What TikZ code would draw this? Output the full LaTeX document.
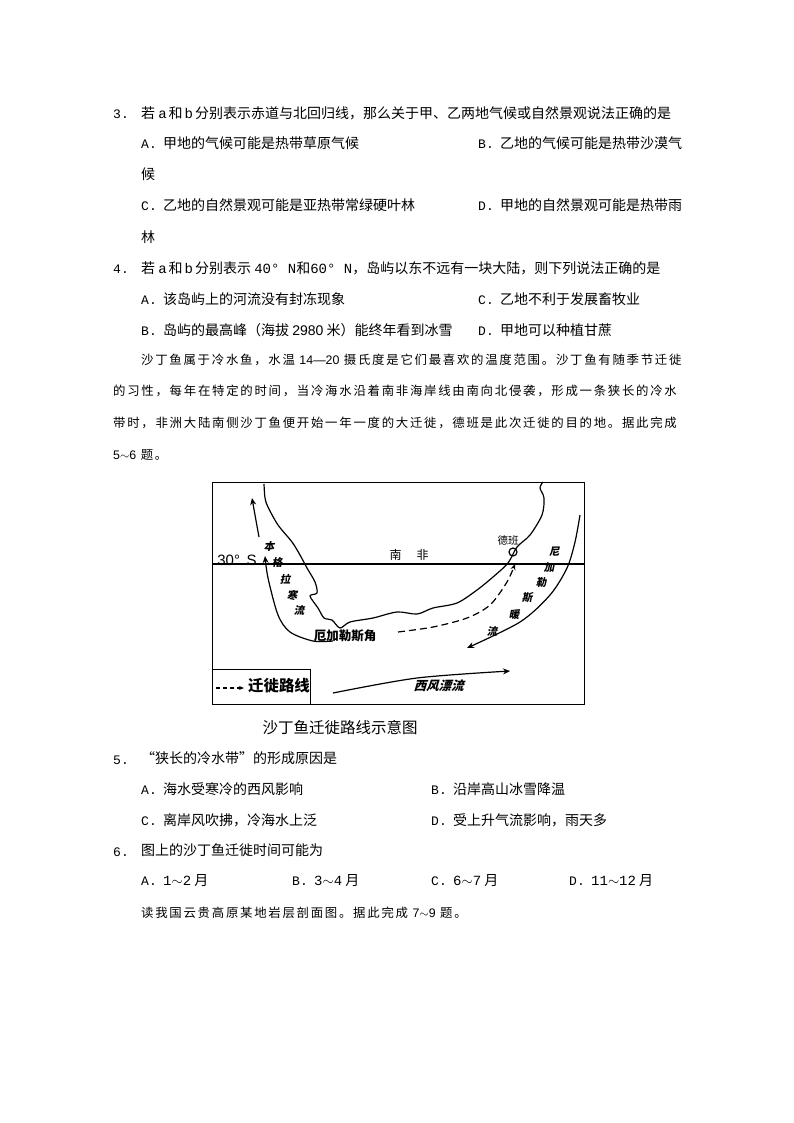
\documentclass[tikz,border=0pt]{standalone}
\usepackage{fontspec}
\setmainfont{Noto Sans CJK SC}
\newfontfamily\cjkfont{Noto Sans CJK SC}
\newfontfamily\parafont[LetterSpace=14]{Noto Sans CJK SC}
\newfontfamily\latfont{Liberation Mono}
\newfontfamily\labfont{Liberation Sans}
\newcommand{\optlab}[1]{\makebox[22pt][l]{\latfont\fontsize{13}{13}\selectfont #1.}}
\newcommand{\dou}{\char"FF0C\relax}
\newcommand{\zuo}{\char"FF08\relax}
\newcommand{\you}{\char"FF09\relax}
\tikzset{
  line/.style={anchor=west, inner sep=0pt, font=\cjkfont\fontsize{14}{15}\selectfont},
  para/.style={anchor=west, inner sep=0pt, font=\parafont\fontsize{12.4}{15}\selectfont},
  num/.style={anchor=west, inner sep=0pt, font=\latfont\fontsize{13}{15}\selectfont},
  maplab/.style={inner sep=0pt, font=\cjkfont\bfseries\fontsize{10.5}{11}\selectfont},
  current/.style={line width=1.2pt, -{Stealth[length=7pt,width=6pt]}},
}
\usetikzlibrary{arrows.meta}
\begin{document}
\begin{tikzpicture}[x=1pt,y=-1pt]
\useasboundingbox (0,0) rectangle (794,1123);
% question 3
\node[num] (n3) at (113,114) {3.};
\node[line] (q3) at (141,113) {若 {\latfont a}\hspace{2pt}和\hspace{2pt}{\latfont b}\hspace{2pt}分别表示赤道与北回归线\dou 那么关于甲、乙两地气候或自然景观说法正确的是};
\node[line] (q3a) at (141,143) {\optlab{A}甲地的气候可能是热带草原气候};
\node[line] (q3b) at (478,143) {\optlab{B}乙地的气候可能是热带沙漠气};
\node[line] (q3b2) at (141,174) {候};
\node[line] (q3c) at (141,205) {\optlab{C}乙地的自然景观可能是亚热带常绿硬叶林};
\node[line] (q3d) at (478,205) {\optlab{D}甲地的自然景观可能是热带雨};
\node[line] (q3d2) at (141,237) {林};
% question 4
\node[num] (n4) at (113,269) {4.};
\node[line] (q4) at (141,268) {若 {\latfont a}\hspace{2pt}和\hspace{2pt}{\latfont b}\hspace{2pt}分别表示 {\latfont 40° N}和{\latfont 60° N}\dou 岛屿以东不远有一块大陆\dou 则下列说法正确的是};
\node[line] (q4a) at (141,299) {\optlab{A}该岛屿上的河流没有封冻现象};
\node[line] (q4c) at (478,299) {\optlab{C}乙地不利于发展畜牧业};
\node[line] (q4b) at (141,330) {\optlab{B}岛屿的最高峰\zuo 海拔 {\labfont 2980} 米\you 能终年看到冰雪};
\node[line] (q4d) at (478,330) {\optlab{D}甲地可以种植甘蔗};
% paragraph
\node[para] (p1) at (141,360) {沙丁鱼属于冷水鱼\dou 水温 {\labfont 14—20} 摄氏度是它们最喜欢的温度范围。沙丁鱼有随季节迁徙};
\node[para] (p2) at (113,391) {的习性\dou 每年在特定的时间\dou 当冷海水沿着南非海岸线由南向北侵袭\dou 形成一条狭长的冷水};
\node[para] (p3) at (113,423) {带时\dou 非洲大陆南侧沙丁鱼便开始一年一度的大迁徙\dou 德班是此次迁徙的目的地。据此完成};
\node[para] (p4) at (113,455) {{\labfont 5$\sim$6} 题。};
% map
\draw[line width=1pt] (212.5,482) rectangle (584,704);
\draw[line width=1pt] (213,669) -- (310,669) -- (310,704);
\draw[line width=1.3pt] (212.5,564) -- (584,564);
\draw[line width=1.2pt] plot[smooth, tension=.5] coordinates {(264,484) (265,498) (268,507) (278,525) (292,542) (300,555) (307,568) (315,582) (317,593) (310,596) (318,608) (324,618) (332,620) (340,628) (350,622) (373,618) (397,612) (417,614) (433,608) (457,603) (477,590) (493,577) (508,563) (517,547) (530,535) (542,515) (544,498) (540,488) (543,482)};
\node[draw, circle, line width=1.2pt, minimum size=8pt, inner sep=0pt] (durban) at (513,552) {};
\draw[current] plot[smooth] coordinates {(333,641) (313,641) (290,632) (278,615) (268,578) (265,556)};
\draw[current] plot[smooth] coordinates {(259,537) (255,515) (252,498)};
\draw[current] plot[smooth] coordinates {(580,515) (575,542) (567,568) (550,595) (520,622) (467,648)};
\draw[current] plot[smooth] coordinates {(333,693) (417,678) (510,671)};
\draw[line width=1.2pt, dash pattern=on 7pt off 4pt, -{Stealth[length=6pt,width=5pt]}] plot[smooth] coordinates {(398,632) (433,627) (467,618) (490,605) (507,582) (515,564)};
\draw[line width=1.2pt, dash pattern=on 4pt off 3pt, -{Stealth[length=5pt,width=4pt]}] (216,688) -- (244,688);
\node[inner sep=0pt, font=\labfont\fontsize{15}{15}\selectfont] (lat) at (237,560) {30° \,S};
\node[inner sep=0pt, font=\cjkfont\fontsize{12}{12}\selectfont] (nanfei) at (409,555) {南\hspace{15pt}非};
\node[inner sep=0pt, font=\cjkfont\fontsize{10.5}{11}\selectfont] (db) at (508,540) {德班};
\node[maplab, xslant=.2] (b1) at (270,547) {本};
\node[maplab, xslant=.2] (b2) at (278,562) {格};
\node[maplab, xslant=.2] (b3) at (286,579) {拉};
\node[maplab, xslant=.2] (b4) at (293,595) {寒};
\node[maplab, xslant=.2] (b5) at (300,610) {流};
\node[maplab, xslant=.2] (a1) at (555,552) {尼};
\node[maplab, xslant=.2] (a2) at (550,568) {加};
\node[maplab, xslant=.2] (a3) at (542,583) {勒};
\node[maplab, xslant=.2] (a4) at (528,598) {斯};
\node[maplab, xslant=.2] (a5) at (515,615) {暖};
\node[maplab, xslant=.2] (a6) at (493,631) {流};
\node[inner sep=0pt, font=\cjkfont\bfseries\fontsize{12.5}{13}\selectfont] (cape) at (345,636) {厄加勒斯角};
\node[inner sep=0pt, font=\cjkfont\bfseries\fontsize{12.5}{13}\selectfont, xslant=.3] (west) at (440,686) {西风漂流};
\node[inner sep=0pt, font=\cjkfont\bfseries\fontsize{15.4}{16}\selectfont] (legend) at (279,686) {迁徙路线};
\node[inner sep=0pt, font=\cjkfont\fontsize{15.5}{16}\selectfont] (cap) at (340,728) {沙丁鱼迁徙路线示意图};
% question 5
\node[num] (n5) at (113,760) {5.};
\node[line] (q5) at (141,758) {“狭长的冷水带”的形成原因是};
\node[line] (q5a) at (141,789) {\optlab{A}海水受寒冷的西风影响};
\node[line] (q5b) at (431,789) {\optlab{B}沿岸高山冰雪降温};
\node[line] (q5c) at (141,820) {\optlab{C}离岸风吹拂\dou 冷海水上泛};
\node[line] (q5d) at (431,820) {\optlab{D}受上升气流影响\dou 雨天多};
% question 6
\node[num] (n6) at (113,852) {6.};
\node[line] (q6) at (141,850) {图上的沙丁鱼迁徙时间可能为};
\node[line] (q6a) at (141,881) {\optlab{A}{\latfont 1$\sim$2} 月};
\node[line] (q6b) at (292,881) {\optlab{B}{\latfont 3$\sim$4} 月};
\node[line] (q6c) at (431,881) {\optlab{C}{\latfont 6$\sim$7} 月};
\node[line] (q6d) at (569,881) {\optlab{D}{\latfont 11$\sim$12} 月};
\node[para] (p5) at (141,913) {读我国云贵高原某地岩层剖面图。据此完成 {\labfont 7$\sim$9} 题。};
\end{tikzpicture}
\end{document}
